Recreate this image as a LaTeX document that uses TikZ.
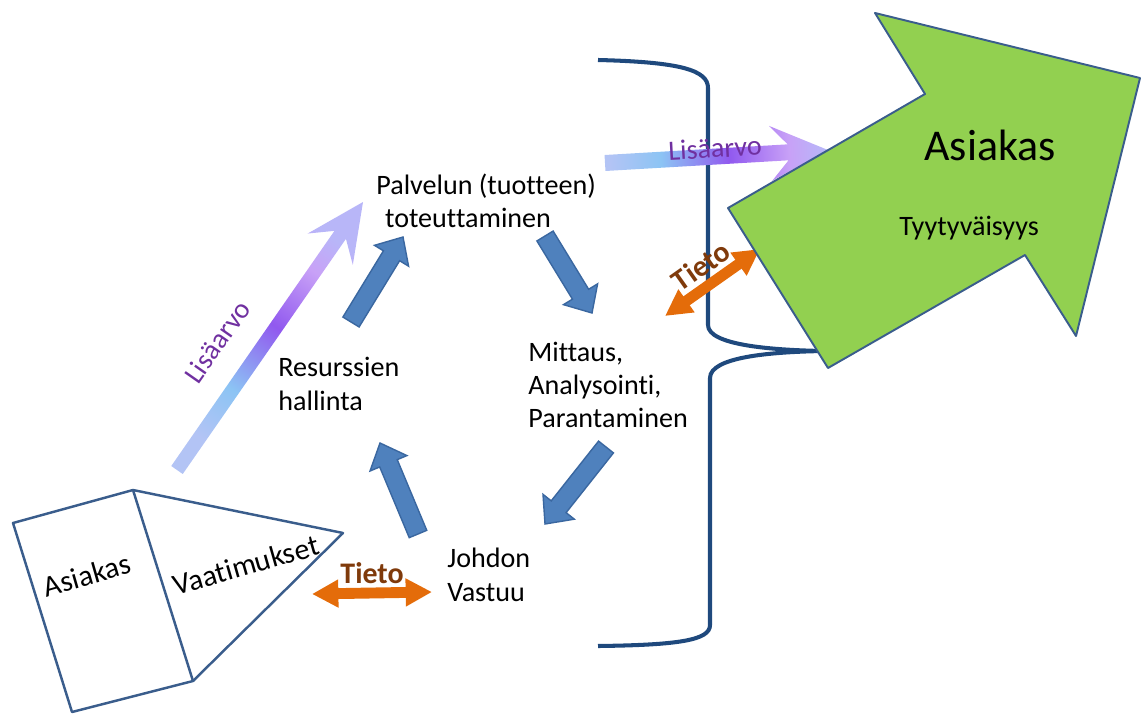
\documentclass[tikz,border=0pt]{standalone}
\usepackage{fontspec}
\setmainfont{Carlito}[Ligatures=NoCommon]
\usetikzlibrary{calc,arrows.meta}
\definecolor{boxblue}{HTML}{3A5D8C}
\definecolor{brackblue}{HTML}{1F497D}
\definecolor{arrfill}{HTML}{4F81BD}
\definecolor{arrline}{HTML}{3A67A0}
\definecolor{tietoor}{HTML}{E46C0A}
\definecolor{tietotx}{HTML}{7F3A0B}
\definecolor{lisatx}{HTML}{7030A0}
\definecolor{asgreen}{HTML}{92D050}
\definecolor{la}{HTML}{B3C4F5}
\definecolor{lb}{HTML}{8CC4F4}
\definecolor{lc}{HTML}{9159EF}
\definecolor{ld}{HTML}{C8A1F7}
\definecolor{le}{HTML}{B8B6F8}
\pgfdeclareverticalshading{lisa}{100bp}{color(0bp)=(la); color(25bp)=(la); color(37bp)=(lb); color(53bp)=(lc); color(67bp)=(ld); color(75bp)=(le); color(100bp)=(le)}
\newcommand{\fatarrow}[7]{%
  \path[#1] ($(#2)!#4!90:(#3)$) -- ($($(#3)!#7!(#2)$)!#4!90:(#3)$)
    -- ($($(#3)!#6!(#2)$)!#5!90:(#3)$) -- (#3)
    -- ($($(#3)!#6!(#2)$)!#5!-90:(#3)$) -- ($($(#3)!#7!(#2)$)!#4!-90:(#3)$)
    -- ($(#2)!#4!-90:(#3)$) -- cycle;}
\begin{document}
\begin{tikzpicture}[x=0.02cm,y=-0.02cm,
    txt/.style={align=left,anchor=west,inner sep=0pt,font=\fontsize{16}{19}\selectfont},
    blockarr/.style={fill=arrfill,draw=arrline,line width=0.8pt},
    lisaarr/.style={shade,shading=lisa},
    lisalbl/.style={text=lisatx,inner sep=0pt,font=\fontsize{16}{19}\selectfont},
    tieto/.style={tietoor,line width=6.2pt,{Triangle[length=15pt,width=15pt]}-{Triangle[length=15pt,width=15pt]}},
    tietolbl/.style={text=tietotx,inner sep=0pt,font=\fontsize{17}{20}\selectfont\bfseries},
    boxline/.style={draw=boxblue,line width=1.4pt,line join=round}]
    \useasboundingbox (0,0) rectangle (1141,713);
    \draw[brackblue,line width=2.3pt] (598,60) .. controls (680,62) and (708,70) .. (708,88) -- (708,325) .. controls (708,345) and (770,350) .. (823,351);
    \draw[brackblue,line width=2.3pt] (823,351) .. controls (770,352) and (710,357) .. (710,378) -- (710,625) .. controls (710,640) and (680,645) .. (598,646);
    \draw[boxline] (13,523) -- (133,490) -- (193,681) -- (72,712) -- cycle;
    \draw[boxline] (133,490) -- (343,533) -- (193,681);
    \node[rotate=16,font=\fontsize{17}{20}\selectfont] (boxa) at (87,575) {Asiakas};
    \node[rotate=16,font=\fontsize{17}{20}\selectfont] (boxv) at (246,565) {Vaatimukset};
    \node[txt] (palv) at (376,201) {Palvelun (tuotteen)\\\hspace*{5pt}toteuttaminen};
    \node[txt] (res) at (278,384) {Resurssien\\hallinta};
    \node[txt] (mit) at (528,385) {Mittaus,\\Analysointi,\\Parantaminen};
    \node[txt] (joh) at (447,575) {Johdon\\Vastuu};
    \coordinate (r1) at (351,322);
    \coordinate (r2) at (403,237);
    \coordinate (p1) at (545,236);
    \coordinate (p2) at (592,313);
    \coordinate (m1) at (606,447);
    \coordinate (m2) at (545,524);
    \coordinate (j1) at (418,534);
    \coordinate (j2) at (380,443);
    \fatarrow{blockarr}{r1}{r2}{0.19cm}{0.4cm}{0.44cm}{0.44cm}
    \fatarrow{blockarr}{p1}{p2}{0.19cm}{0.4cm}{0.44cm}{0.44cm}
    \fatarrow{blockarr}{m1}{m2}{0.19cm}{0.4cm}{0.44cm}{0.44cm}
    \fatarrow{blockarr}{j1}{j2}{0.19cm}{0.4cm}{0.44cm}{0.44cm}
    \coordinate (l1a) at (177,470);
    \coordinate (l1b) at (363,202);
    \coordinate (l2a) at (605,163);
    \coordinate (l2b) at (828,150);
    \fatarrow{lisaarr,shading angle=-35}{l1a}{l1b}{0.14cm}{0.55cm}{1.15cm}{0.8cm}
    \fatarrow{lisaarr,shading angle=-87}{l2a}{l2b}{0.16cm}{0.55cm}{1.15cm}{0.8cm}
    \node[lisalbl,rotate=55] (lis1) at (217,342) {Lisäarvo};
    \node[lisalbl,rotate=3] (lis2) at (715,148) {Lisäarvo};
    \coordinate (t1a) at (312,594);
    \coordinate (t1b) at (432,592);
    \coordinate (t2a) at (665,316);
    \coordinate (t2b) at (760,249);
    \draw[tieto] (t1a) -- node[tietolbl,above=2pt] (tie1) {Tieto} (t1b);
    \draw[tieto] (t2a) -- node[tietolbl,sloped,above=2.5pt] (tie2) {Tieto} (t2b);
    \draw[fill=asgreen,draw=boxblue,line width=1.1pt,line join=round] (875,13) -- (925,94) -- (728,208) -- (828,368) -- (1025,255) -- (1076,336) -- (1140,78) -- cycle;
    \node[font=\fontsize{25}{30}\selectfont] (asi) at (990,145) {Asiakas};
    \node[font=\fontsize{16}{19}\selectfont] (tyy) at (969,228) {Tyytyväisyys};
\end{tikzpicture}
\end{document}
